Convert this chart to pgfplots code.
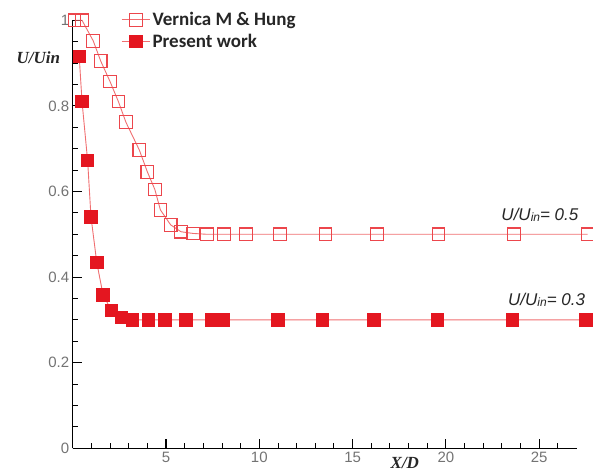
\documentclass[border=0pt]{standalone}
\usepackage{pgfplots}
\pgfplotsset{compat=1.18}
\usepackage{fontspec}
\setmainfont{Liberation Sans}
\newfontfamily\carlito{Carlito}
\newfontfamily\tnr{Liberation Serif}
\definecolor{mred}{RGB}{228,22,32}
\definecolor{hred}{RGB}{236,70,76}
\definecolor{lred}{RGB}{240,110,112}
\definecolor{tgray}{RGB}{115,115,115}
\begin{document}
\begin{tikzpicture}
\begin{axis}[
  scale only axis, width=503.8pt, height=428pt,
  xmin=0, xmax=27, ymin=0, ymax=1,
  axis lines=left, axis line style={-, line width=1.3pt, black},
  clip=false,
  xtick={5,10,15,20,25},
  minor xtick={1,2,3,4,6,7,8,9,11,12,13,14,16,17,18,19,21,22,23,24,26},
  ytick={0,0.2,0.4,0.6,0.8,1},
  minor ytick={0.05,0.1,0.15,0.25,0.3,0.35,0.45,0.5,0.55,0.65,0.7,0.75,0.85,0.9,0.95},
  tick align=inside,
  major tick length=9pt, minor tick length=5pt,
  every major tick/.style={black, line width=1.2pt},
  every minor tick/.style={black, line width=0.9pt},
  tick label style={font=\fontsize{15}{16}\selectfont, text=tgray},
  /pgf/number format/assume math mode=true,
  legend style={at={(axis cs:2.43,1.028)}, anchor=north west, draw=none, fill=none,
    font=\carlito\bfseries\fontsize{19}{20}\selectfont, text=black!85,
    row sep=2.5pt},
  legend cell align=left,
  legend image code/.code={\draw[mark repeat=2,mark phase=2,#1] plot coordinates {(0cm,0cm) (0.5cm,0cm) (1.0cm,0cm)};},
]
\addplot[color=lred, line width=0.9pt, mark=square, mark size=6.3pt,
  mark options={draw=hred, line width=1.1pt, solid}] coordinates {
(0.1,1.0)(0.5,1.0)(1.1,0.952)(1.5,0.905)(2.0,0.857)(2.45,0.81)(2.85,0.762)
(3.57,0.697)(4.0,0.646)(4.4,0.605)(4.7,0.557)(5.25,0.522)(5.8,0.506)(6.45,0.502)
(7.2,0.5)(8.1,0.5)(9.3,0.5)(11.1,0.5)(13.55,0.5)(16.3,0.5)(19.6,0.5)(23.65,0.5)(27.6,0.5)
};
\addlegendentry{Vernica M \& Hung}
\addplot[color=lred, line width=0.9pt, mark=square*, mark size=6.2pt,
  mark options={draw=mred, fill=mred, solid}] coordinates {
(0.35,0.915)(0.5,0.81)(0.8,0.672)(0.98,0.541)(1.29,0.434)(1.63,0.358)(2.08,0.322)
(2.6,0.306)(3.2,0.30)(4.05,0.30)(4.95,0.30)(6.07,0.3)(7.42,0.3)(8.07,0.3)
(11.0,0.3)(13.4,0.3)(16.15,0.3)(19.55,0.3)(23.56,0.3)(27.5,0.3)
};
\addlegendentry{Present work}
\node[font=\itshape\fontsize{17}{17}\selectfont, text=black!85] at (axis cs:25.04,0.545)
  {U/U\raisebox{-1pt}{\fontsize{12}{12}\selectfont in}= 0.5};
\node[font=\itshape\fontsize{17}{17}\selectfont, text=black!85] at (axis cs:25.4,0.346)
  {U/U\raisebox{-1pt}{\fontsize{12}{12}\selectfont in}= 0.3};
\node[anchor=east, font=\tnr\bfseries\itshape\fontsize{17}{17}\selectfont, text=black!85]
  at (axis cs:0,0.9136) [xshift=-9pt] {U/Uin};
\node[font=\tnr\bfseries\itshape\fontsize{17}{17}\selectfont, text=black!85]
  at (axis cs:17.8,-0.034) {X/D};
\end{axis}
\pgfresetboundingbox
\path[use as bounding box] (-72.7pt,-25.7pt) rectangle (520.3pt,448.3pt);
\end{tikzpicture}
\end{document}
